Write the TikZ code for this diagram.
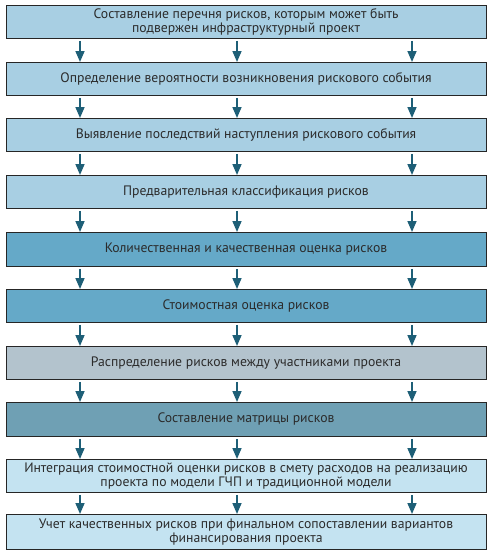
\documentclass[tikz,border=0pt]{standalone}
\usepackage{fontspec}
\setmainfont{PT Sans}
\usetikzlibrary{arrows.meta}
\definecolor{cA}{HTML}{A8CFE3}
\definecolor{cB}{HTML}{65A9C8}
\definecolor{cC}{HTML}{B3C3CD}
\definecolor{cD}{HTML}{6FA0B4}
\definecolor{cE}{HTML}{C4E3F1}
\definecolor{arr}{HTML}{1E5F77}
\definecolor{txt}{HTML}{2B2B2B}
\tikzset{
  stepbox/.style={draw=black!85, line width=0.8pt, minimum width=480pt, inner sep=0pt,
    align=center, font=\fontsize{13.7}{14}\selectfont, text=txt, anchor=north},
  flow/.style={draw=arr, line width=1.6pt, -{Triangle[length=11pt,width=9pt]}, shorten <=2pt, shorten >=0pt}
}
\begin{document}
\begin{tikzpicture}[x=1pt,y=-1pt]
\useasboundingbox (0,0) rectangle (494,557);
\node[stepbox, fill=cA, minimum height=33pt] (b1) at (246,5) {Составление перечня рисков, которым может быть\\подвержен инфраструктурный проект};
\node[stepbox, fill=cA, minimum height=33pt] (b2) at (246,62) {Определение вероятности возникновения рискового события};
\node[stepbox, fill=cA, minimum height=33pt] (b3) at (246,118) {Выявление последствий наступления рискового события};
\node[stepbox, fill=cA, minimum height=33pt] (b4) at (246,175) {Предварительная классификация рисков};
\node[stepbox, fill=cB, minimum height=34pt] (b5) at (246,232) {Количественная и качественная оценка рисков};
\node[stepbox, fill=cB, minimum height=33pt] (b6) at (246,289) {Стоимостная оценка рисков};
\node[stepbox, fill=cC, minimum height=33pt] (b7) at (246,346) {Распределение рисков между участниками проекта};
\node[stepbox, fill=cD, minimum height=34pt] (b8) at (246,402) {Составление матрицы рисков};
\node[stepbox, fill=cE, minimum height=33pt] (b9) at (246,459) {Интеграция стоимостной оценки рисков в смету расходов на реализацию\\проекта по модели ГЧП и традиционной модели};
\node[stepbox, fill=cE, minimum height=35pt] (b10) at (246,514) {Учет качественных рисков при финальном сопоставлении вариантов\\финансирования проекта};
\foreach \a/\b in {b1/b2,b2/b3,b3/b4,b4/b5,b5/b6,b6/b7,b7/b8,b8/b9,b9/b10}{
  \foreach \xx in {80,237,412}{
    \draw[flow] (\a.south -| \xx,0) -- (\b.north -| \xx,0);
  }
}
\end{tikzpicture}
\end{document}
